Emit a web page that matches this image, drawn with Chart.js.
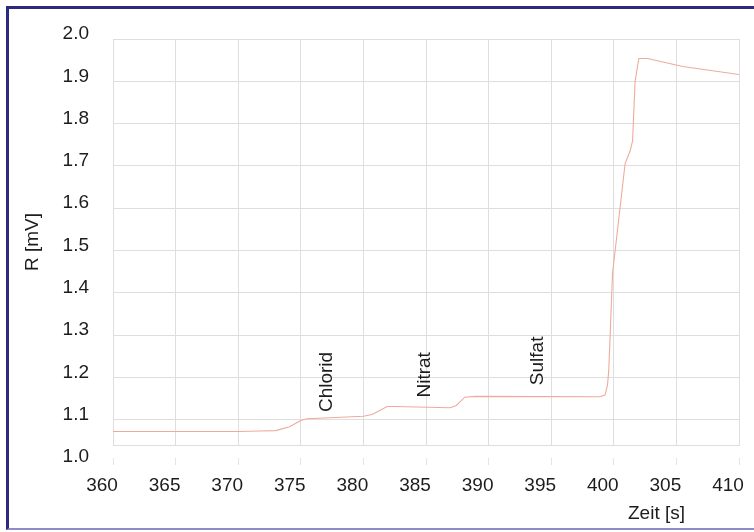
<!DOCTYPE html>
<html>
<head>
<meta charset="utf-8">
<script src="https://cdn.jsdelivr.net/npm/chart.js@4/dist/chart.umd.min.js"></script>
<style>
  html, body { margin: 0; padding: 0; background: #fff; }
  #wrap { position: relative; width: 754px; height: 532px; overflow: hidden; }
  #frame {
    position: absolute; left: 6px; top: 6px; width: 760px; height: 524px;
    box-sizing: border-box;
    border-left: 3px solid #2d2a7e; border-top: 3px solid #2d2a7e;
    border-bottom: 2px solid #8e8cc4;
    pointer-events: none;
  }
  canvas { position: absolute; left: 0; top: 0; }
</style>
</head>
<body>
<div id="wrap">
  <canvas id="chart" width="754" height="532"></canvas>
  <div id="frame"></div>
</div>
<script>
// Zeit [s] vs. R [mV]
const zeit = [360, 370, 371.7, 373.0, 374.1, 375.0, 375.5, 380.0, 380.7, 381.9, 382.5, 386.9, 387.4, 388.1, 388.9,
  398.9, 399.3, 399.5, 399.6, 399.9, 400.5, 400.9, 401.3, 401.5, 401.7, 402.0, 402.7, 405.5, 410];
const widerstand = [1.072, 1.072, 1.073, 1.074, 1.083, 1.098, 1.102, 1.108, 1.112, 1.131, 1.131, 1.128, 1.133, 1.153, 1.155,
  1.154, 1.158, 1.182, 1.218, 1.446, 1.601, 1.705, 1.735, 1.759, 1.900, 1.954, 1.954, 1.935, 1.916];

const xTickLabels = ["360", "365", "370", "375", "380", "385", "390", "395", "400", "305", "410"];
const yTickLabels = ["1.0", "1.1", "1.2", "1.3", "1.4", "1.5", "1.6", "1.7", "1.8", "1.9", "2.0"];
const yTickValues = [1.0, 1.1, 1.2, 1.3, 1.4, 1.5, 1.6, 1.7, 1.8, 1.9, 2.0];

const ionen = ["Chlorid", "Nitrat", "Sulfat"];
const ionenZeit = [377.1, 384.9, 393.9];
const ionenR = [1.189, 1.206, 1.239];

const textColor = "#1c1c1c";
const gridColor = "#dedede";
const font = { family: "'Liberation Sans', Arial, sans-serif", size: 19 };
const Y_MIN = 1.04;

// vertical ion labels and the x title
const beschriftung = {
  id: "beschriftung",
  afterDatasetsDraw(chart) {
    const { ctx, scales: { x, y }, chartArea } = chart;
    ctx.save();
    ctx.fillStyle = textColor;
    ctx.font = `${font.size}px ${font.family}`;
    ctx.textAlign = "center";
    ctx.textBaseline = "middle";
    ionen.forEach((name, i) => {
      ctx.save();
      ctx.translate(x.getPixelForValue(ionenZeit[i]), y.getPixelForValue(ionenR[i]));
      ctx.rotate(-Math.PI / 2);
      ctx.fillText(name, 0, 0);
      ctx.restore();
    });
    ctx.textAlign = "right";
    ctx.fillText("Zeit [s]", chartArea.right - 54, chartArea.bottom + 69);
    ctx.restore();
  },
};

new Chart(document.getElementById("chart"), {
  type: "line",
  data: {
    datasets: [{
      data: zeit.map((t, i) => ({ x: t, y: widerstand[i] })),
      borderColor: "#eeab9c",
      borderWidth: 1.1,
      pointRadius: 0,
      tension: 0,
      fill: false,
    }],
  },
  options: {
    responsive: false,
    animation: false,
    devicePixelRatio: 1,
    layout: { padding: { left: 12, top: 39, right: 15, bottom: 0 } },
    plugins: { legend: { display: false }, tooltip: { enabled: false } },
    scales: {
      x: {
        type: "linear",
        min: 360,
        max: 410,
        afterFit: (s) => { s.height = 87; s.paddingLeft = 0; s.paddingRight = 0; },
        ticks: {
          stepSize: 5,
          color: textColor,
          font,
          padding: 9,
          labelOffset: -11,
          maxRotation: 0,
          callback: (v, i) => xTickLabels[i],
        },
        grid: {
          color: gridColor,
          tickLength: 20,
          tickColor: "#e4e4e4",
          tickBorderDash: [0, 12, 8, 100],
        },
        border: { color: gridColor },
      },
      y: {
        min: Y_MIN,
        max: 2.0,
        afterFit: (s) => { s.width = 101; },
        afterBuildTicks: (s) => { s.ticks = yTickValues.map((v) => ({ value: v })); },
        ticks: {
          color: textColor,
          font,
          padding: 24,
          labelOffset: -5,
          callback: (v, i) => yTickLabels[i],
        },
        grid: {
          drawTicks: false,
          color: (c) => (c.tick && c.tick.value < Y_MIN ? "rgba(0,0,0,0)" : gridColor),
        },
        border: { color: gridColor },
        title: {
          display: true,
          text: "R [mV]",
          color: textColor,
          font,
          padding: { top: 9, bottom: 0 },
        },
      },
    },
  },
  plugins: [beschriftung],
});
</script>
</body>
</html>
